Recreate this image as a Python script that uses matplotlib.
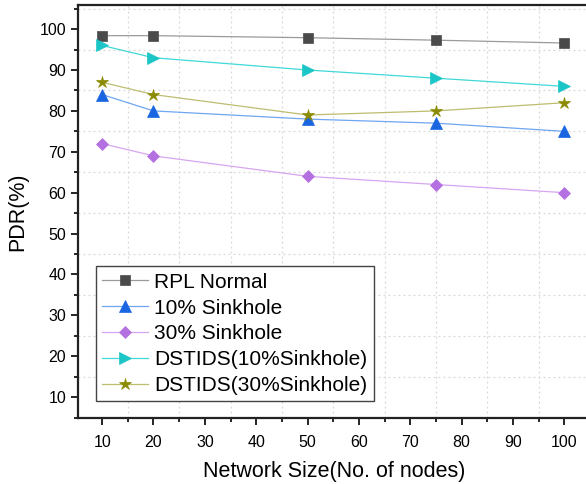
import matplotlib
matplotlib.use("Agg")
import matplotlib.pyplot as plt
from matplotlib.ticker import MultipleLocator

plt.rcParams['font.family'] = ['Liberation Sans', 'DejaVu Sans']

nodes = [10, 20, 50, 75, 100]
rpl_normal = [98.4, 98.4, 97.9, 97.3, 96.6]
sink_10 = [84, 80, 78, 77, 75]
sink_30 = [72, 69, 64, 62, 60]
dstids_10 = [96, 93, 90, 88, 86]
dstids_30 = [87, 84, 79, 80, 82]

series = [
    ("RPL Normal", rpl_normal, "s", "#9a9a9a", "#4a4a4a", 6.5),
    ("10% Sinkhole", sink_10, "^", "#6fa6f2", "#1a66e0", 8),
    ("30% Sinkhole", sink_30, "D", "#d7a6f0", "#b46fe0", 6.5),
    ("DSTIDS(10%Sinkhole)", dstids_10, ">", "#40d8d8", "#1cc6c6", 8),
    ("DSTIDS(30%Sinkhole)", dstids_30, "*", "#bdbd70", "#8a8a00", 9),
]

fig = plt.figure(figsize=(5.86, 4.84), dpi=100)
ax = fig.add_axes([78 / 586, 66 / 484, 512 / 586, 413 / 484])

for label, vals, marker, lc, mc, ms in series:
    ax.plot(nodes, vals, color=lc, linewidth=0.9, marker=marker,
            markersize=ms, markerfacecolor=mc, markeredgecolor=mc,
            markeredgewidth=0.5, label=label)

ax.set_xlim(5.3, 105)
ax.set_ylim(4.9, 105.9)
ax.xaxis.set_minor_locator(MultipleLocator(5))
ax.yaxis.set_minor_locator(MultipleLocator(5))
ax.set_xticks(range(10, 101, 10))
ax.set_yticks(range(10, 101, 10))

ax.tick_params(which='major', direction='out', length=5, width=1.2, labelsize=11.5)
ax.tick_params(axis='x', which='major', pad=7)
ax.tick_params(which='minor', direction='out', length=3, width=1.2)
ax.grid(which='minor', linestyle=(0, (1.5, 2.5)), color='#d8d8d8', linewidth=0.9)
ax.grid(which='major', visible=False)
for s in ax.spines.values():
    s.set_linewidth(1.6)
    s.set_color('#222222')

ax.set_xlabel("Network Size(No. of nodes)", fontsize=15.5, labelpad=8)
ax.set_ylabel("PDR(%)", fontsize=15.5, labelpad=8)

leg = ax.legend(loc='lower left', bbox_to_anchor=(0.035, 0.04), fontsize=15,
                fancybox=False, framealpha=1, edgecolor='#444444',
                handlelength=2.2, borderpad=0.3, labelspacing=0.33,
                handletextpad=0.3, borderaxespad=0)
leg.get_frame().set_linewidth(1.0)

fig.savefig("out.png", dpi=100)
